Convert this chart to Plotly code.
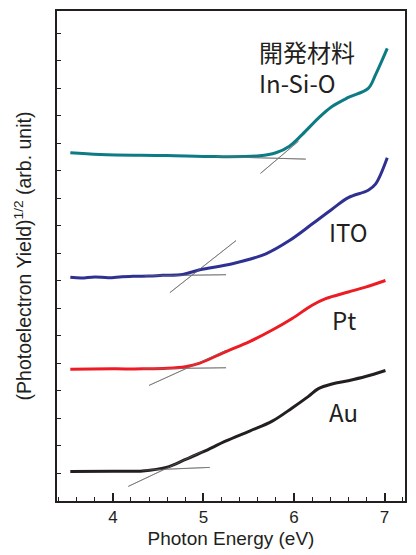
import plotly.graph_objects as go

# ---- data ----
au_x = [3.53, 4.00, 4.33, 4.59, 4.81, 5.00, 5.25, 5.51, 5.76, 5.98, 6.16, 6.27, 6.42, 6.60, 6.79, 7.01]
au_y = [1.07, 1.08, 1.09, 1.22, 1.52, 1.79, 2.18, 2.54, 2.90, 3.38, 3.80, 4.08, 4.25, 4.37, 4.52, 4.74]

pt_x = [3.53, 4.00, 4.33, 4.60, 4.80, 4.96, 5.25, 5.51, 5.76, 5.98, 6.20, 6.35, 6.60, 6.79, 7.01]
pt_y = [4.79, 4.80, 4.80, 4.82, 4.88, 5.01, 5.43, 5.79, 6.21, 6.63, 7.11, 7.35, 7.59, 7.77, 8.01]

ito_x = [3.53, 3.65, 3.80, 3.95, 4.10, 4.22, 4.40, 4.55, 4.77, 4.96, 5.32, 5.69, 5.95, 6.20, 6.42, 6.60, 6.82, 6.90, 7.03]
ito_y = [8.13, 8.10, 8.14, 8.11, 8.15, 8.16, 8.17, 8.20, 8.23, 8.40, 8.62, 8.98, 9.46, 10.06, 10.60, 11.02, 11.29, 11.51, 12.47]

isi_x = [3.53, 3.86, 4.59, 5.14, 5.62, 5.80, 5.95, 6.09, 6.27, 6.42, 6.60, 6.82, 6.90, 7.03]
isi_y = [12.65, 12.59, 12.55, 12.51, 12.54, 12.65, 12.89, 13.31, 13.91, 14.33, 14.66, 14.99, 15.48, 16.44]

# tangent (onset) construction lines: baseline and slope lines
au_base_x = [4.33, 5.07];  au_base_y = [1.12, 1.22]
au_slope_x = [4.17, 5.00]; au_slope_y = [0.53, 1.82]
pt_base_x = [4.33, 5.25];  pt_base_y = [4.80, 4.84]
pt_slope_x = [4.40, 5.25]; pt_slope_y = [4.20, 5.47]
ito_base_x = [4.35, 5.25]; ito_base_y = [8.18, 8.22]
ito_slope_x = [4.63, 5.36]; ito_slope_y = [7.57, 9.46]
isi_base_x = [5.14, 6.13]; isi_base_y = [12.51, 12.42]
isi_slope_x = [5.63, 6.05]; isi_slope_y = [11.90, 13.07]

labels = ["開発材料<br>In-Si-O", "ITO", "Pt", "Au"]
label_x = [5.60, 6.38, 6.41, 6.38]
label_y = [15.76, 9.8, 6.6, 3.25]

x_ticks = [4, 5, 6, 7]

fig = go.Figure()

gray = "#7a7a7a"
tangents = [(au_base_x, au_base_y, au_slope_x, au_slope_y),
            (pt_base_x, pt_base_y, pt_slope_x, pt_slope_y),
            (ito_base_x, ito_base_y, ito_slope_x, ito_slope_y),
            (isi_base_x, isi_base_y, isi_slope_x, isi_slope_y)]
for bx, by, sx, sy in tangents:
    fig.add_trace(go.Scatter(x=bx, y=by, mode="lines", line=dict(color=gray, width=1), showlegend=False))
    fig.add_trace(go.Scatter(x=sx, y=sy, mode="lines", line=dict(color=gray, width=1), showlegend=False))

for xs, ys, col in [(au_x, au_y, "#231f20"), (pt_x, pt_y, "#ed1c24"),
                    (ito_x, ito_y, "#2e3192"), (isi_x, isi_y, "#0d7b83")]:
    fig.add_trace(go.Scatter(x=xs, y=ys, mode="lines",
                             line=dict(color=col, width=3, shape="spline", smoothing=1.0),
                             showlegend=False))

# tangent lines faintly visible on top where they overlap curves
for bx, by, sx, sy in tangents:
    fig.add_trace(go.Scatter(x=bx, y=by, mode="lines", line=dict(color=gray, width=0.8), opacity=0.6, showlegend=False))
    fig.add_trace(go.Scatter(x=sx, y=sy, mode="lines", line=dict(color=gray, width=0.8), opacity=0.6, showlegend=False))

lab_font = dict(family="Noto Sans CJK JP", size=24, color="#231f20")
for t, lx, ly in zip(labels, label_x, label_y):
    fig.add_annotation(x=lx, y=ly, text=t, showarrow=False, xanchor="left", yanchor="middle",
                       align="left", font=lab_font, borderpad=0)

fig.update_xaxes(range=[3.383, 7.226], tickvals=x_ticks, ticktext=[str(v) for v in x_ticks],
                 ticks="inside", ticklen=8, tickwidth=1.5, tickcolor="#231f20",
                 minor=dict(dtick=0.2, tick0=0, ticks="inside", ticklen=4, tickwidth=1.2, tickcolor="#231f20"),
                 showline=True, linecolor="#231f20", linewidth=1.5, mirror=True,
                 showgrid=False, zeroline=False,
                 tickfont=dict(family="Liberation Sans", size=17, color="#231f20"),
                 title=dict(text="Photon Energy (eV)", font=dict(family="Liberation Sans", size=19, color="#231f20"),
                            standoff=6))
fig.update_yaxes(range=[0, 17.8], dtick=1, tick0=0, showticklabels=False,
                 ticks="inside", ticklen=4, tickwidth=1.2, tickcolor="#231f20",
                 showline=True, linecolor="#231f20", linewidth=1.5, mirror=True,
                 showgrid=False, zeroline=False,
                 title=dict(text="(Photoelectron Yield)<sup>1/2</sup> (arb. unit)",
                            font=dict(family="Liberation Sans", size=19.5, color="#231f20"), standoff=18))

fig.update_layout(width=416, height=555, margin=dict(l=57, r=9, t=9, b=53),
                  plot_bgcolor="white", paper_bgcolor="white")

fig.write_html("out.html")
